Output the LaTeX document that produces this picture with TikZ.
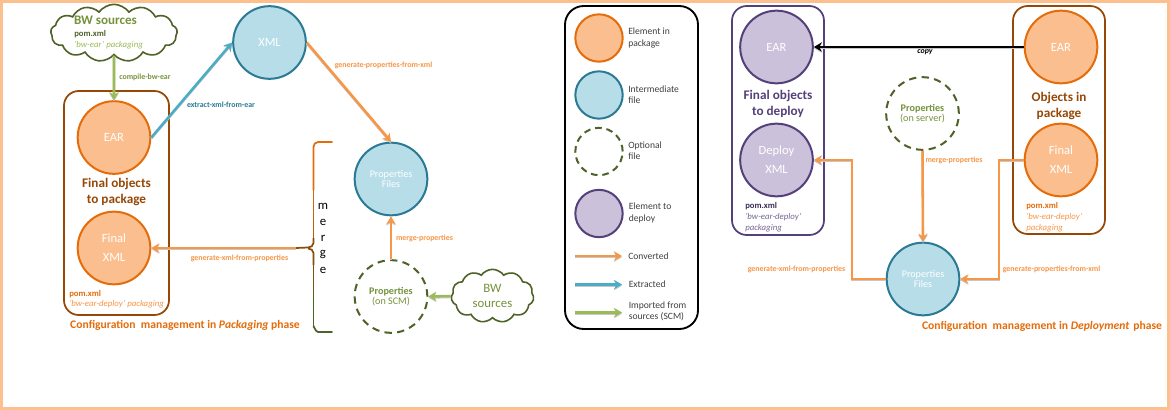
\documentclass[tikz,border=0pt]{standalone}
\usepackage{fontspec}
\setmainfont{Carlito}
\usetikzlibrary{shapes.symbols,arrows.meta,calc}
\definecolor{frameC}{HTML}{FCC08F}
\definecolor{orangeF}{HTML}{FBBF8F}
\definecolor{orangeD}{HTML}{E46C0A}
\definecolor{arrowO}{HTML}{F79646}
\definecolor{blueF}{HTML}{B7DDE8}
\definecolor{blueD}{HTML}{2A7A94}
\definecolor{arrowB}{HTML}{4BACC6}
\definecolor{purpleF}{HTML}{CCC1DA}
\definecolor{purpleD}{HTML}{54407A}
\definecolor{brownD}{HTML}{974806}
\definecolor{greenD}{HTML}{4F6228}
\definecolor{greenM}{HTML}{76923C}
\definecolor{greenL}{HTML}{9BBB59}
\newcommand{\sz}[1]{\fontsize{#1}{#1}\selectfont}
\tikzset{
  x=0.75pt,y=-0.75pt,
  circ/.style={circle,minimum size=54.5pt,inner sep=0pt,line width=1.5pt,align=center,text=white,font=\sz{9.4}},
  smallcirc/.style={circle,minimum size=35.5pt,inner sep=0pt,line width=1.5pt},
  pkg/.style={circ,draw=orangeD,fill=orangeF},
  inter/.style={circ,draw=blueD,fill=blueF},
  depl/.style={circ,draw=purpleD,fill=purpleF},
  opt/.style={circ,draw=greenD,dash pattern=on 5.5pt off 4pt,text=greenM},
  spkg/.style={smallcirc,draw=orangeD,fill=orangeF},
  sinter/.style={smallcirc,draw=blueD,fill=blueF},
  sdepl/.style={smallcirc,draw=purpleD,fill=purpleF},
  sopt/.style={smallcirc,draw=greenD,dash pattern=on 5pt off 3.6pt},
  grp/.style={rounded corners=11pt,line width=1.3pt},
  bwcloud/.style={cloud,draw=greenD,fill=white,line width=1.2pt,inner sep=0pt,cloud ignores aspect},
  shad/.style={preaction={draw=black!22,line width=1.6pt,transform canvas={yshift=-0.9pt}}},
  tip/.style={-{Stealth[length=6pt,width=7pt,inset=2pt]}},
  conv/.style={shad,draw=arrowO,line width=1.9pt,tip},
  extr/.style={shad,draw=arrowB,line width=1.9pt,tip},
  imp/.style={shad,draw=greenL,line width=1.9pt,tip},
  lbl/.style={inner sep=0pt,font=\sz{5.9}\bfseries,text=arrowO},
  ttl/.style={inner sep=0pt,font=\sz{8.7}\bfseries,text=orangeD},
  head/.style={inner sep=0pt,font=\sz{9.9}\bfseries,align=center},
  leg/.style={inner sep=0pt,anchor=west,font=\sz{7.2},text=black!75},
  note/.style={inner sep=0pt,anchor=west,font=\sz{6.5}\bfseries},
  notei/.style={inner sep=0pt,anchor=west,font=\sz{6.6}\itshape},
}
\begin{document}
\begin{tikzpicture}
\useasboundingbox (0,0) rectangle (1170,410);
\fill[frameC] (0,0) rectangle (1170,410);
\fill[white] (3,3) rectangle (1167,407);

% ---- left diagram
\draw[grp,draw=brownD] (64,91) rectangle (169,315);
\node[bwcloud,minimum width=95pt,minimum height=43pt,cloud puffs=13,cloud puff arc=110] (cloudA) at (114,33) {};
\node[inner sep=0pt,font=\sz{9.8}\bfseries,text=greenM] (bwA) at (105.5,20.5) {BW sources};
\node[note,text=greenD] (pomA) at (74,34.5) {pom.xml};
\node[notei,text=greenL] (pkA) at (74,45) {`bw-ear' packaging};
\node[pkg] (ear) at (114,137.5) {EAR};
\node[pkg] (fxml) at (114,248) {Final\\[5pt]XML};
\node[inter] (xml) at (269.5,42.5) {XML};
\node[inter,font=\sz{7.6}] (props) at (391,179) {Properties\\[-0.5pt]Files};
\node[opt,font=\sz{7.6}] (scm) at (391,296.5) {\textbf{Properties}\\[-0.5pt](on SCM)};
\node[bwcloud,minimum width=62pt,minimum height=40pt,cloud puffs=11,cloud puff arc=110,text=greenM,font=\sz{9.6},align=center] (cloudB) at (492.5,296) {BW\\[1pt]sources};

\node[head,text=brownD] (hA) at (116.5,192) {Final objects\\[2pt]to package};
\node[note,text=orangeD] (pomB) at (69,294) {pom.xml};
\node[notei,text=arrowO] (pkB) at (69,304.5) {`bw-ear-deploy' packaging};

\draw[imp] (cloudA.south) -- (ear.north);
\draw[extr] (ear.east) -- (xml.west);
\draw[conv] (xml.east) -- (props.north);
\draw[conv] (scm.north) -- (props.south);
\draw[imp] (cloudB.west) -- (scm.east);

\coordinate (btip) at (296,248);
\draw[line width=1.3pt,orangeD,line cap=round] (332,142) -- (318,142) to[out=180,in=90] (313.5,147) -- (313.5,190);
\foreach \a/\b/\m in {190/205/85,205/220/70,220/238/55}{
  \draw[line width=1.3pt,orangeD!\m!brownD] (313.5,\a) -- (313.5,\b);}
\draw[line width=1.3pt,brownD!80!greenD] (313.5,238) -- (313.5,243) to[out=270,in=0] (308,247.5) -- (btip);
\draw[line width=1.3pt,brownD!80!greenD] (308,248.5) to[out=0,in=90] (313.5,253) -- (313.5,265);
\foreach \a/\b/\m in {265/280/65,280/295/45,295/327/0}{
  \draw[line width=1.3pt,brownD!\m!greenD] (313.5,\a) -- (313.5,\b);}
\draw[line width=1.3pt,greenD,line cap=round] (313.5,327) to[out=90,in=180] (318,332) -- (332,332);
\draw[conv] (btip) -- (fxml.east);

\foreach \l/\y/\n in {m/206/ma,e/222/mb,r/238/mc,g/254/md,e/270/me}{
  \node[inner sep=0pt,font=\sz{9.6},text=black] (\n) at (323,\y) {\l};}

\node[lbl,text=greenM] (l1) at (145,77) {compile-bw-ear};
\node[lbl,text=blueD] (l2) at (221,105) {extract-xml-from-ear};
\node[lbl] (l3) at (383.5,65) {generate-properties-from-xml};
\node[lbl] (l4) at (239.5,258) {generate-xml-from-properties};
\node[lbl] (l5) at (424.5,238) {merge-properties};
\node[ttl] (t1) at (185,325.5) {Configuration\hspace{2pt} management in \textit{Packaging} phase};

% ---- legend
\draw[line width=1.4pt,black,rounded corners=14pt] (565,6) rectangle (698,329);
\node[spkg] (lg1) at (599,38) {};
\node[sinter] (lg2) at (599,95) {};
\node[sopt] (lg3) at (599,151.5) {};
\node[sdepl] (lg4) at (599,213.5) {};
\node[leg,align=left] (lt1) at (628,38) {Element in\\[1.2pt]package};
\node[leg,align=left] (lt2) at (628,95) {Intermediate\\[1.2pt]file};
\node[leg,align=left] (lt3) at (628,151) {Optional\\[1.2pt]file};
\node[leg,align=left] (lt4) at (628.5,213) {Element to\\[1.2pt]deploy};
\coordinate (a1a) at (575,256); \coordinate (a1b) at (622,256);
\coordinate (a2a) at (575,284.5); \coordinate (a2b) at (622,284.5);
\coordinate (a3a) at (575,312.5); \coordinate (a3b) at (622,312.5);
\draw[conv] (a1a) -- (a1b);
\draw[extr] (a2a) -- (a2b);
\draw[imp] (a3a) -- (a3b);
\node[leg] (lt5) at (628,256) {Converted};
\node[leg] (lt6) at (628.5,284) {Extracted};
\node[leg,align=left] (lt7) at (628.5,311) {Imported from\\[1.2pt]sources (SCM)};

% ---- right diagram
\draw[grp,draw=purpleD] (732,6) rectangle (824,235);
\draw[grp,draw=brownD] (1013,6) rectangle (1105,234);
\node[depl] (dear) at (776.5,47) {EAR};
\node[depl] (dxml) at (776.5,160) {Deploy\\[5pt]XML};
\node[opt,font=\sz{7.6}] (srv) at (922.5,113.5) {\textbf{Properties}\\[-0.5pt](on server)};
\node[pkg] (pear) at (1061,47) {EAR};
\node[pkg] (pxml) at (1061,160) {Final\\[5pt]XML};
\node[inter,font=\sz{7.6}] (pf) at (923,279) {Properties\\[-0.5pt]Files};
\node[head,text=purpleD] (hB) at (778,104) {Final objects\\[2pt]to deploy};
\node[head,text=brownD] (hC) at (1059,106) {Objects in\\[2pt]package};
\node[note,text=purpleD!70!black] (pomC) at (745,206) {pom.xml};
\node[notei,text=purpleD!80] (pkC) at (745,217) {`bw-ear-deploy'};
\node[notei,text=purpleD!80] (pkC2) at (745,228) {packaging};
\node[note,text=orangeD] (pomD) at (1026,206) {pom.xml};
\node[notei,text=arrowO] (pkD) at (1026,217) {`bw-ear-deploy'};
\node[notei,text=arrowO] (pkD2) at (1026,228) {packaging};

\draw[shad,draw=black,line width=1.9pt,tip] (pear.west) -- (dear.east);
\draw[conv] (srv.south) -- (pf.north);
\draw[conv] (pf.west) -| (852,160) -- (dxml.east);
\draw[conv] (pxml.west) -- (999,160) |- (pf.east);

\node[inner sep=0pt,font=\sz{5.9}\bfseries\itshape,text=black] (cp) at (925,52.5) {copy};
\node[lbl] (l6) at (954,160) {merge-properties};
\node[lbl] (l7) at (796.5,269) {generate-xml-from-properties};
\node[lbl] (l8) at (1051.5,269) {generate-properties-from-xml};
\node[ttl] (t2) at (1042,326) {Configuration\hspace{2pt} management in \textit{Deployment}\hspace{1pt} phase};
\end{tikzpicture}
\end{document}
